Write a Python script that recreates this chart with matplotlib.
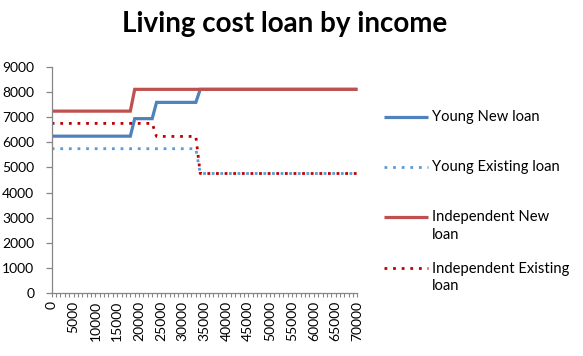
import matplotlib
matplotlib.use("Agg")
import matplotlib.pyplot as plt
from matplotlib.lines import Line2D

# ---- data ----
incomes = list(range(0, 70001, 1000))          # category axis (71 categories)
x_tick_labels = ["0", "5000", "10000", "15000", "20000", "25000", "30000",
                 "35000", "40000", "45000", "50000", "55000", "60000",
                 "65000", "70000"]
y_ticks = [0, 1000, 2000, 3000, 4000, 5000, 6000, 7000, 8000, 9000]

young_new = [6250] * 19 + [6950] * 5 + [7600] * 10 + [8120] * 37
young_existing = [5750] * 34 + [4760] * 37
independent_new = [7250] * 19 + [8120] * 52
independent_existing = [6760] * 24 + [6240] * 10 + [4760] * 37

series_names = ["Young New loan", "Young Existing loan",
                "Independent New\nloan", "Independent Existing\nloan"]
series_values = [young_new, young_existing, independent_new, independent_existing]

colors = ["#4F81BD", "#5B9BD5", "#C0504D", "#C00000"]
dotted = (0, (1, 2.1))
styles = ["-", dotted, "-", dotted]
widths = [2.3, 2.0, 2.3, 2.0]

W, H = 583, 356
fig = plt.figure(figsize=(W / 100, H / 100), dpi=100)
font = "Lato"

ax = fig.add_axes([51.7 / W, 1 - 292.7 / H, (357.5 - 51.7) / W, (292.7 - 67.3) / H])

pos = list(range(len(incomes)))
for vals, c, ls, lw in zip(series_values, colors, styles, widths):
    ax.plot(pos, vals, color=c, linestyle=ls, linewidth=lw,
            solid_capstyle="butt", dash_capstyle="butt", solid_joinstyle="miter")

ax.set_xlim(0, len(incomes) - 1)
ax.set_ylim(0, 9000)
ax.set_yticks(y_ticks)
ax.set_yticklabels([str(v) for v in y_ticks], fontfamily=font, fontsize=10)

ax.set_xticks(pos)
lab = []
for i, inc in enumerate(incomes):
    s = str(inc)
    lab.append(s if s in x_tick_labels else "")
ax.set_xticklabels(lab, rotation=90, fontfamily=font, fontsize=10, va="top")

for s in ["top", "right"]:
    ax.spines[s].set_visible(False)
for s in ["left", "bottom"]:
    ax.spines[s].set_color("#868686")
    ax.spines[s].set_linewidth(0.9)
ax.tick_params(axis="y", direction="out", length=4.5, width=0.9, color="#868686",
               pad=8, labelcolor="black")
ax.tick_params(axis="x", direction="out", length=3.2, width=0.8, color="#868686",
               pad=2.5, labelcolor="black")

# title
fig.text(285 / W, 1 - 24 / H, "Living cost loan by income", ha="center", va="center",
         fontfamily=font, fontweight="bold", fontsize=20)

# legend (manual, Excel-like layout)
rows_y = [117, 167, 217, 268]
for name, c, ls, lw, yy in zip(series_names, colors, styles, widths, rows_y):
    fy = 1 - yy / H
    fig.add_artist(Line2D([384 / W, 428 / W], [fy, fy], color=c, linestyle=ls,
                          linewidth=lw, solid_capstyle="butt", dash_capstyle="butt",
                          transform=fig.transFigure))
    fig.text(432 / W, fy + 6.5 / H, name, ha="left", va="top", fontfamily=font,
             fontsize=10.6, linespacing=1.35)

fig.savefig("out.png", dpi=100)
